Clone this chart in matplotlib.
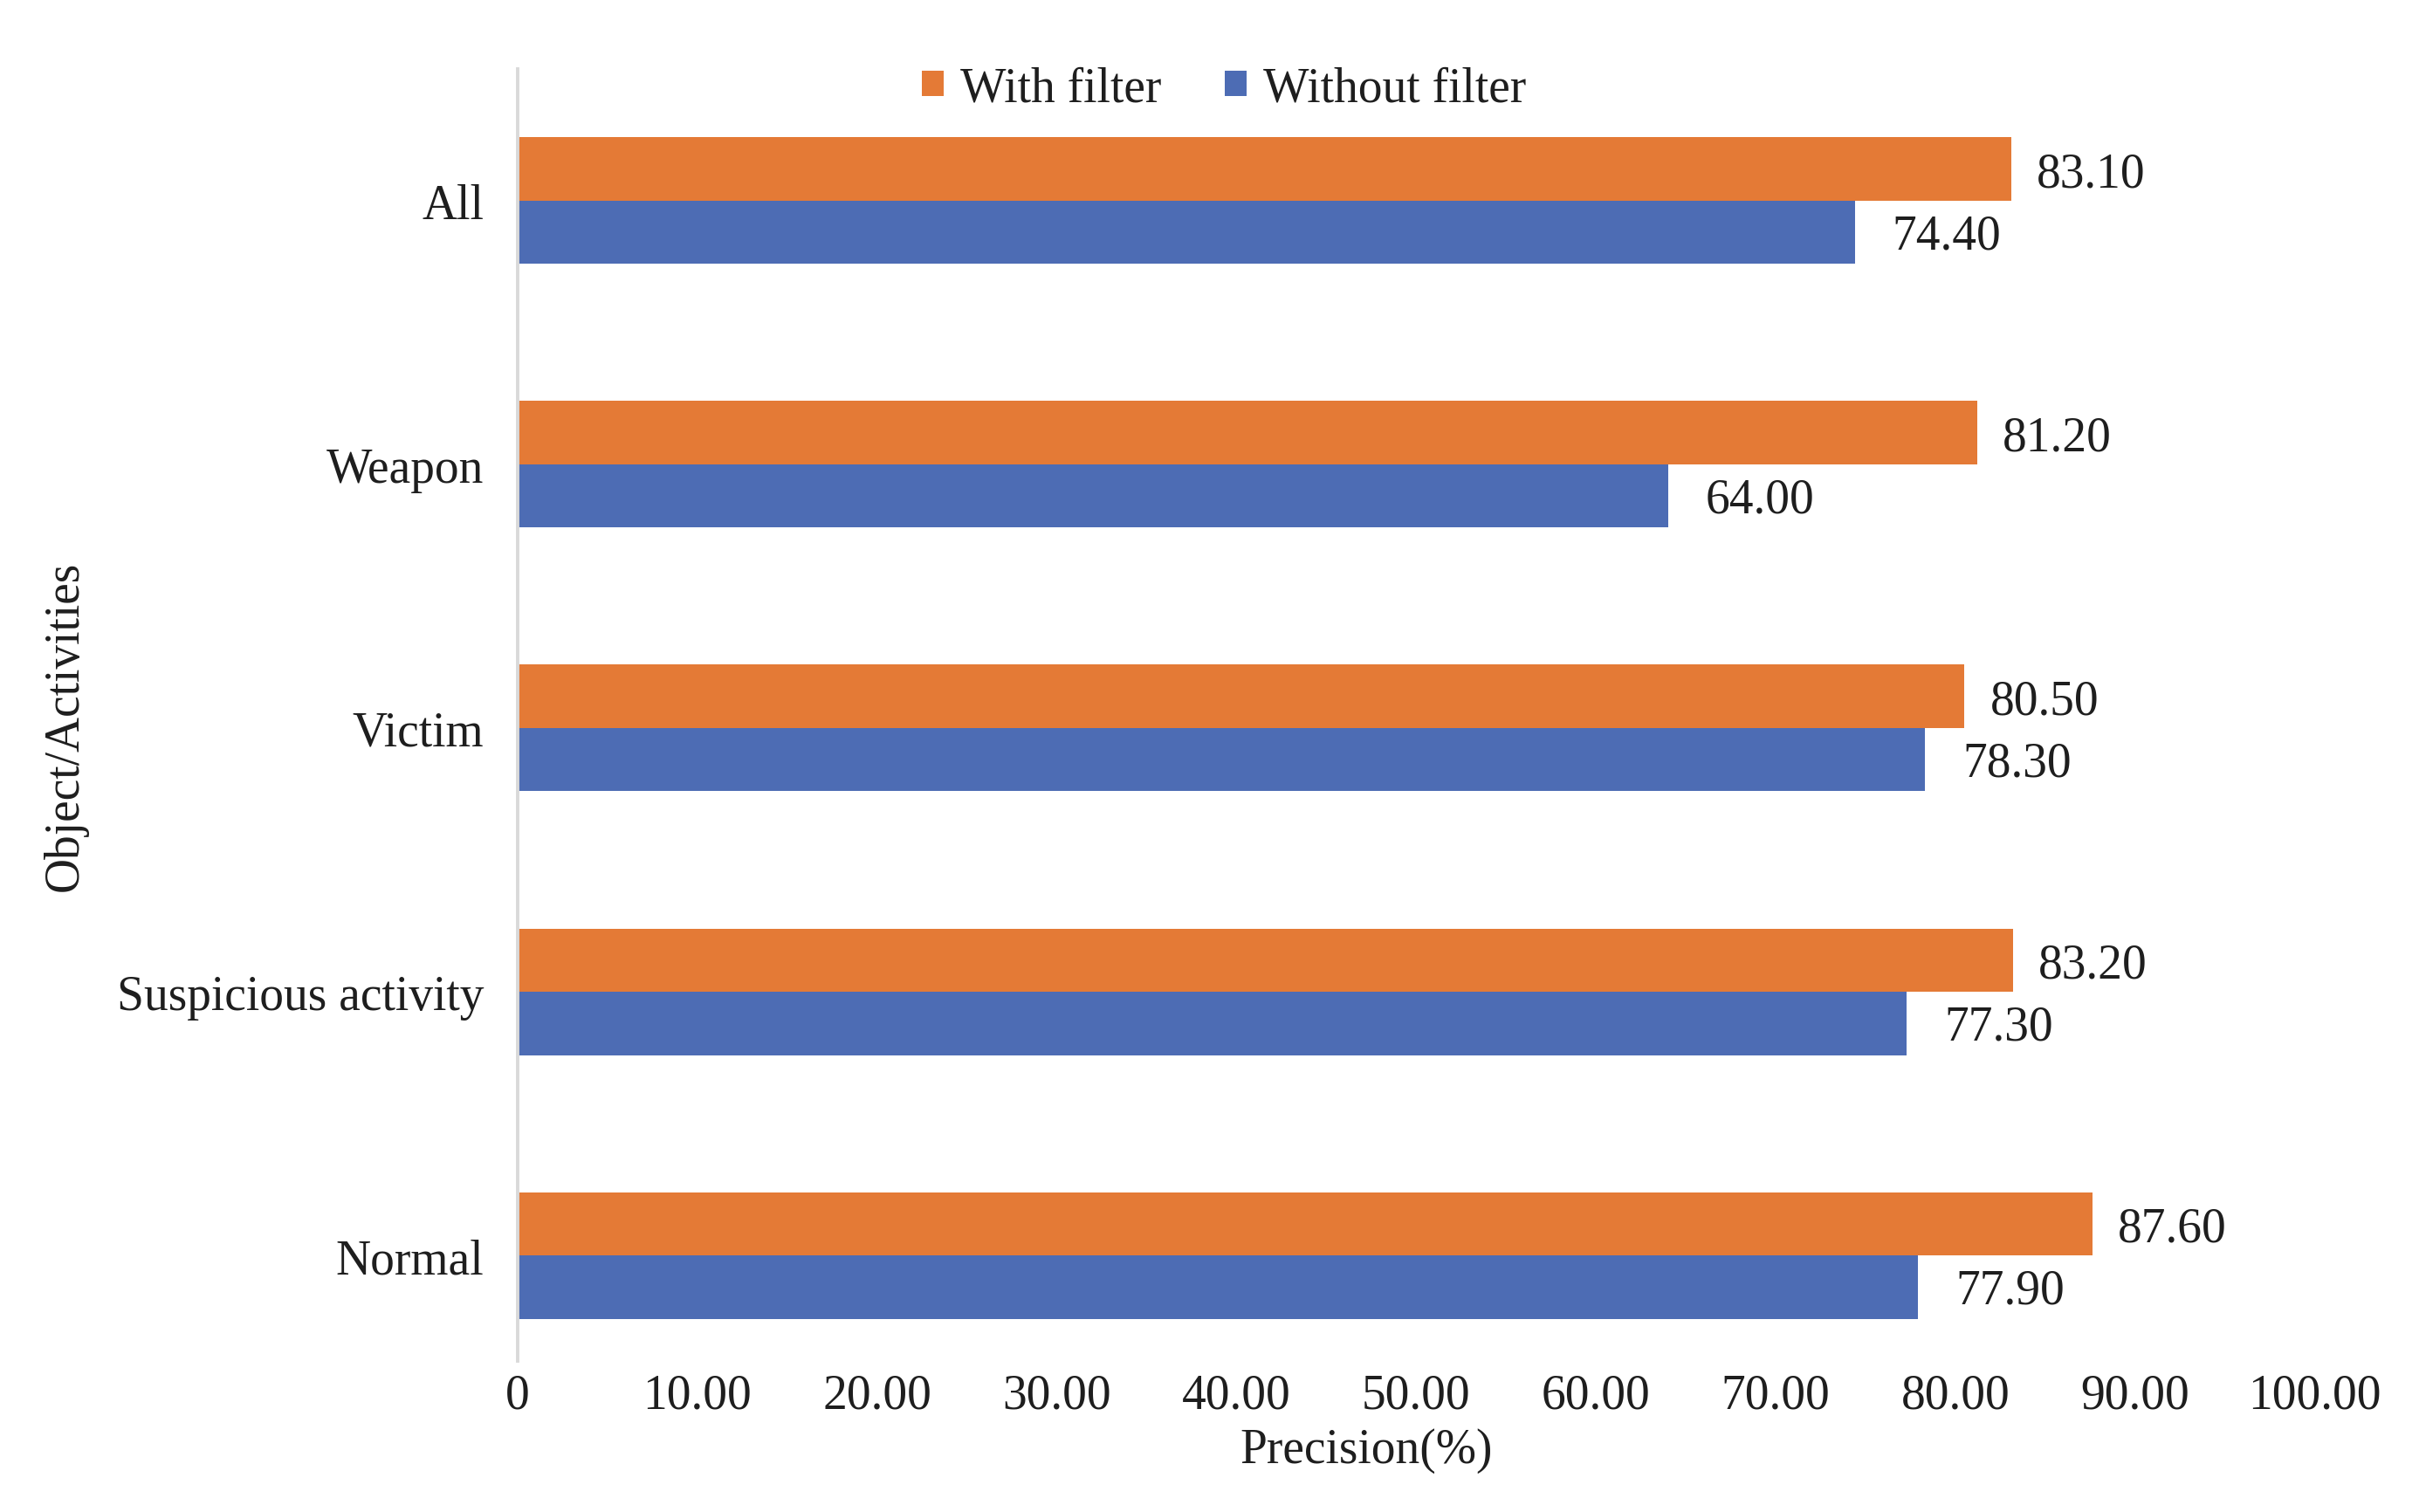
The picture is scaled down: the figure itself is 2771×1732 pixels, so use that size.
import matplotlib
matplotlib.use("Agg")
import matplotlib.pyplot as plt
import numpy as np

categories = ["Normal", "Suspicious activity", "Victim", "Weapon", "All"]
with_filter = [87.60, 83.20, 80.50, 81.20, 83.10]
without_filter = [77.90, 77.30, 78.30, 64.00, 74.40]
xticks = [0, 10, 20, 30, 40, 50, 60, 70, 80, 90, 100]
xtick_labels = ["0", "10.00", "20.00", "30.00", "40.00", "50.00", "60.00",
                "70.00", "80.00", "90.00", "100.00"]
series_names = ["With filter", "Without filter"]

ORANGE = "#E47A36"
BLUE = "#4D6CB4"
TXT = "#1E1E1E"

plt.rcParams['font.family'] = ['Liberation Serif', 'DejaVu Serif']
FS = 40

fig = plt.figure(figsize=(27.71, 17.33), dpi=100)
ax = fig.add_axes([0.214, 0.0998, 0.957 - 0.214, 0.954 - 0.0998])

y = np.arange(len(categories))
h = 0.24
b1 = ax.barh(y + h / 2, with_filter, height=h, color=ORANGE, label=series_names[0])
b2 = ax.barh(y - h / 2, without_filter, height=h, color=BLUE, label=series_names[1])

for rect, v in zip(b1, with_filter):
    ax.annotate(f"{v:.2f}", (rect.get_width(), rect.get_y() + rect.get_height() / 2),
                xytext=(21, -4), textcoords="offset points", va="center", ha="left",
                fontsize=FS, color=TXT)
for rect, v in zip(b2, without_filter):
    ax.annotate(f"{v:.2f}", (rect.get_width(), rect.get_y() + rect.get_height() / 2),
                xytext=(31, -3), textcoords="offset points", va="center", ha="left",
                fontsize=FS, color=TXT)

ax.set_xlim(0, 100)
ax.set_ylim(-0.40, 4.5)
ax.set_yticks(y)
ax.set_yticklabels(categories, fontsize=FS, color=TXT)
ax.set_xticks(xticks)
ax.set_xticklabels(xtick_labels, fontsize=FS, color=TXT)
ax.tick_params(axis='both', length=0)
ax.tick_params(axis='y', pad=28)
ax.tick_params(axis='x', pad=10)

for s in ["top", "right", "bottom"]:
    ax.spines[s].set_visible(False)
ax.spines["left"].set_color("#D9D9D9")
ax.spines["left"].set_linewidth(2.8)

fig.text(0.565, 0.041, "Precision(%)", ha="center", va="center", fontsize=FS, color=TXT)
fig.text(0.027, 0.52, "Object/Activities", ha="center", va="center", rotation=90,
         fontsize=FS, color=TXT)

leg = fig.legend(handles=[b1, b2], labels=series_names, loc="center",
                 bbox_to_anchor=(0.506, 0.941), ncol=2, frameon=False, fontsize=FS,
                 handlelength=0.45, handleheight=0.45, handletextpad=0.35,
                 columnspacing=1.3)
for t in leg.get_texts():
    t.set_color(TXT)

fig.savefig("out.png", dpi=100, facecolor="white")
